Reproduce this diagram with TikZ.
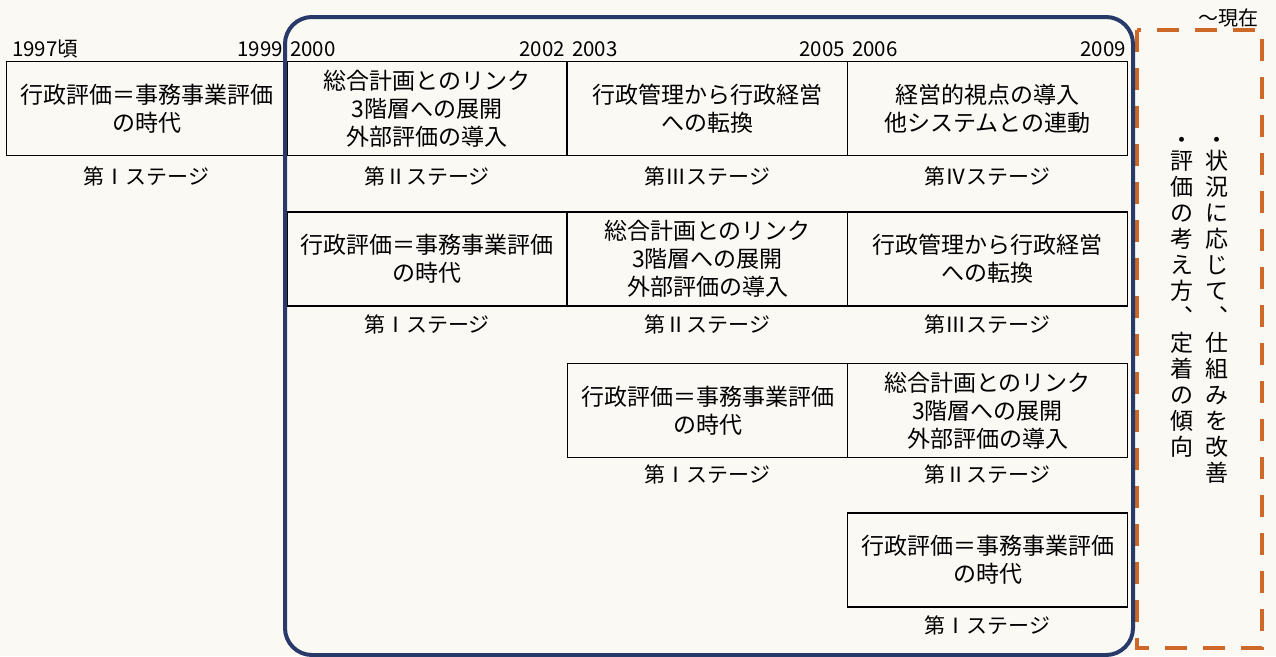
\documentclass[tikz,border=0pt]{standalone}
\usepackage{fontspec}
\setmainfont{Noto Sans CJK JP}
\definecolor{navy}{RGB}{40,58,105}
\definecolor{orng}{RGB}{206,104,40}
\definecolor{paper}{RGB}{251,249,243}
\begin{document}
\begin{tikzpicture}[x=1pt,y=-1pt,
  sbox/.style={draw=black,line width=1.6pt,minimum width=280pt,minimum height=94pt,inner sep=0pt,align=center,font=\fontsize{23}{28}\selectfont},
  slab/.style={font=\fontsize{21}{24}\selectfont,inner sep=0pt},
  yr/.style={font=\fontsize{20.5}{22}\selectfont,inner sep=0pt},
  vtxt/.style={font=\fontsize{23}{26}\selectfont,inner sep=0pt,align=center,anchor=north}]
\fill[paper] (0,0) rectangle (1276,656);
\useasboundingbox (0,0) rectangle (1276,656);
% orange dashed frame
\draw[orng,line width=4.5pt,dash pattern=on 22pt off 16pt] (1137,30) rectangle (1262,648);
% years
\node[yr,anchor=base west] (y97) at (12,56) {1997頃};
\node[yr,anchor=base east] (y99) at (283,56) {1999};
\node[yr,anchor=base west] (y00) at (290,56) {2000};
\node[yr,anchor=base east] (y02) at (565,56) {2002};
\node[yr,anchor=base west] (y03) at (572,56) {2003};
\node[yr,anchor=base east] (y05) at (845,56) {2005};
\node[yr,anchor=base west] (y06) at (852,56) {2006};
\node[yr,anchor=base east] (y09) at (1126,56) {2009};
\node[font=\fontsize{20}{22}\selectfont,inner sep=0pt] (now) at (1228,18) {～現在};
% row 1
\node[sbox] (a1) at (146.5,108.5) {行政評価＝事務事業評価\\の時代};
\node[sbox] (a2) at (427,108.5) {総合計画とのリンク\\3階層への展開\\外部評価の導入};
\node[sbox] (a3) at (707.5,108.5) {行政管理から行政経営\\への転換};
\node[sbox] (a4) at (987.5,108.5) {経営的視点の導入\\他システムとの連動};
\node[slab] (la1) at (146.5,176) {第Ⅰステージ};
\node[slab] (la2) at (427,176) {第Ⅱステージ};
\node[slab] (la3) at (707.5,176) {第Ⅲステージ};
\node[slab] (la4) at (987.5,176) {第Ⅳステージ};
% row 2
\node[sbox] (b2) at (427,259) {行政評価＝事務事業評価\\の時代};
\node[sbox] (b3) at (707.5,259) {総合計画とのリンク\\3階層への展開\\外部評価の導入};
\node[sbox] (b4) at (987.5,259) {行政管理から行政経営\\への転換};
\node[slab] (lb2) at (427,324) {第Ⅰステージ};
\node[slab] (lb3) at (707.5,324) {第Ⅱステージ};
\node[slab] (lb4) at (987.5,324) {第Ⅲステージ};
% row 3
\node[sbox] (c3) at (707.5,410.5) {行政評価＝事務事業評価\\の時代};
\node[sbox] (c4) at (987.5,410.5) {総合計画とのリンク\\3階層への展開\\外部評価の導入};
\node[slab] (lc3) at (707.5,474) {第Ⅰステージ};
\node[slab] (lc4) at (987.5,474) {第Ⅱステージ};
% row 4
\node[sbox] (d4) at (987.5,560) {行政評価＝事務事業評価\\の時代};
\node[slab] (ld4) at (987.5,625) {第Ⅰステージ};
% vertical text
\node[vtxt] (v1) at (1217,128) {\rule{0pt}{0.88em}・\\[-5pt]状\\況\\に\\応\\じ\\て\\︑\\仕\\組\\み\\を\\改\\善};
\node[vtxt] (v2) at (1182,128) {\rule{0pt}{0.88em}・\\[-5pt]評\\価\\の\\考\\え\\方\\︑\\定\\着\\の\\傾\\向};
% blue rounded frame
\draw[navy,line width=4pt,rounded corners=27pt] (285,17) rectangle (1133,655);
\end{tikzpicture}
\end{document}
